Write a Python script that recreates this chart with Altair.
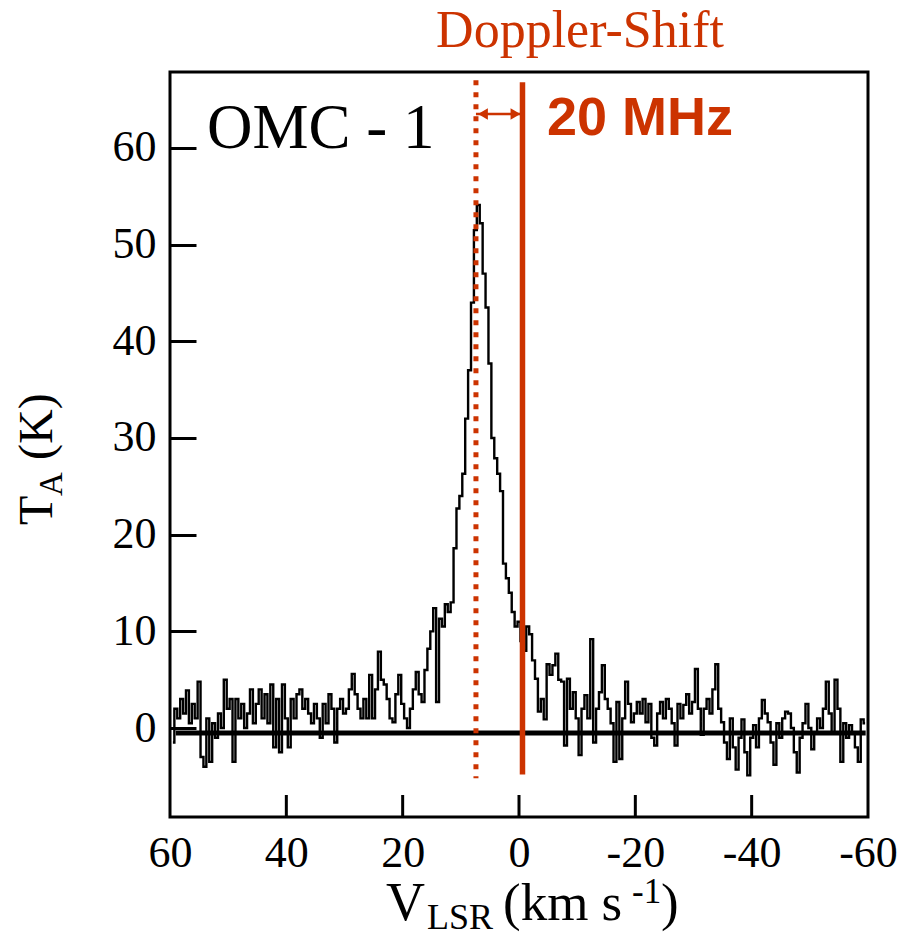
import altair as alt
import numpy as np
import pandas as pd

RED = "#CC3300"

# velocity channels (km/s), 0.5 km/s apart, from 59.5 down to -59.5
velocity = np.arange(59.5, -60.0, -0.5)

# antenna temperature T_A (K)
t_a = [
    -1.5, 2.0, 1.0, 3.0, 1.5, 3.9, 0.5, 2.5, 1.0, 4.8,
    -3.0, -4.0, 1.0, -3.5, 0.5, -1.0, 1.5, 0.0, 5.0, 2.0,
    3.0, -3.5, 3.0, 1.0, 2.5, 0.0, 1.5, 4.0, 0.5, 2.5,
    4.0, 1.0, 3.5, 0.5, 4.5, -2.0, 3.0, -2.5, 4.5, 1.0,
    -2.0, 3.0, 1.0, 3.5, 4.0, 2.0, 3.0, 1.5, 0.5, 2.5,
    1.0, -1.0, 2.5, 0.5, 3.5, 2.0, -1.5, 2.0, 3.0, 1.5,
    2.0, 4.0, 5.6, 3.5, 2.0, 1.0, 3.0, 1.0, 5.5, 1.0,
    4.0, 7.9, 5.0, 4.5, 3.0, 1.0, 0.6, 3.5, 5.5, 2.5,
    1.0, 0.0, 2.0, 4.0, 5.8, 3.5, 2.7, 6.0, 8.2, 10.0,
    12.4, 2.7, 11.3, 10.5, 12.8, 12.0, 13.0, 18.6, 22.7, 24.0,
    26.3, 32.0, 37.0, 44.0, 51.5, 54.1, 52.2, 47.0, 43.5, 37.7,
    30.0, 27.9, 26.3, 24.5, 17.0, 15.5, 14.0, 12.0, 10.5, 11.0,
    9.0, 8.0, 10.5, 9.7, 7.0, 5.1, 1.7, 3.0, 0.9, 6.6,
    5.5, 6.5, 7.7, 5.0, 4.8, -1.8, 5.1, 2.0, 3.7, 1.0,
    -2.8, 2.0, 3.4, 1.0, 9.2, -1.5, 2.0, 3.7, 6.5, 3.0,
    2.0, 0.5, -3.5, 2.7, -3.2, 1.0, 4.8, 2.5, 0.6, 1.5,
    2.7, 1.5, 3.0, 0.6, 2.5, -1.0, -1.8, 1.5, 2.7, 1.0,
    3.0, 2.0, 0.5, -1.8, 2.5, 1.0, 2.4, 3.5, 1.5, 2.7,
    6.1, 2.0, -0.7, 2.0, 3.0, 1.5, 4.0, 6.6, 2.0, 0.6,
    -1.5, -3.2, 1.0, -2.0, -4.3, -1.0, 0.9, -2.5, -4.9, -1.0,
    0.3, -2.0, 1.0, 2.9, 1.5, 0.6, -1.5, -3.8, 0.5, -1.0,
    1.0, 1.7, 1.5, 0.0, -2.5, -4.6, -1.0, 0.5, 2.5, 0.0,
    -2.2, -0.5, 1.0, 0.0, 2.0, 4.8, 1.5, -0.5, 5.0, 2.0,
    -3.5, 0.5, -1.0, 0.3, -0.5, -2.0, -3.5, 0.9, 0.5,
]

x_tick_values = [60, 40, 20, 0, -20, -40, -60]
x_inner_ticks = [40, 20, 0, -20, -40]
y_tick_values = [0, 10, 20, 30, 40, 50, 60]

baseline_level = [-0.5]
baseline_span = [59.0, -59.6]
rest_velocity = [-0.6]      # solid red line
shifted_velocity = [7.4]    # dotted red line
line_span = [66.8, -5.0]
arrow_level = [63.5]

W, H = 698, 745

spec = pd.DataFrame({"v": velocity, "t": t_a})

xscale = alt.Scale(domain=[-60, 60], reverse=True, nice=False, zero=False)
yscale = alt.Scale(domain=[-9.2, 67.85], nice=False, zero=False)

label_expr = "datum.value < 0 ? '-' + abs(datum.value) : '' + datum.value"

x_axis = alt.Axis(values=x_tick_values, title=None, ticks=False, domain=False, grid=False,
                  labelFont="Liberation Serif", labelFontSize=44, labelColor="black",
                  labelPadding=14, labelExpr=label_expr, labelOverlap=False, labelBound=False,
                  labelFlush=False)
# y axis drawn 26 px inside the frame so that its ticks point into the plot
y_axis = alt.Axis(values=y_tick_values, title=None, ticks=True, tickSize=26, tickWidth=3,
                  tickColor="black", offset=-26, domain=False, grid=False,
                  labelFont="Liberation Serif", labelFontSize=44, labelColor="black",
                  labelPadding=14, labelOverlap=False, labelBound=False, labelFlush=False,
                  labelBaseline="middle")

spectrum = alt.Chart(spec).mark_line(interpolate="step", color="black", strokeWidth=2.4).encode(
    x=alt.X("v:Q", scale=xscale, axis=x_axis),
    y=alt.Y("t:Q", scale=yscale, axis=y_axis),
)

base_df = pd.DataFrame({"x1": [baseline_span[0]], "x2": [baseline_span[1]], "y": baseline_level})
baseline = alt.Chart(base_df).mark_rule(color="black", strokeWidth=5).encode(
    x=alt.X("x1:Q", scale=xscale), x2="x2:Q", y=alt.Y("y:Q", scale=yscale))

xt_df = pd.DataFrame({"v": x_inner_ticks})
xticks = alt.Chart(xt_df).mark_rule(color="black", strokeWidth=3).encode(
    x=alt.X("v:Q", scale=xscale), y=alt.value(H), y2=alt.value(H - 22))

solid_df = pd.DataFrame({"v": rest_velocity, "y1": [line_span[0]], "y2": [line_span[1] + 0.2]})
solid = alt.Chart(solid_df).mark_rule(color=RED, strokeWidth=5.5).encode(
    x=alt.X("v:Q", scale=xscale), y=alt.Y("y1:Q", scale=yscale), y2="y2:Q")

dot_df = pd.DataFrame({"v": shifted_velocity, "y1": [line_span[0] + 0.2], "y2": [line_span[1] - 0.2]})
dotted = alt.Chart(dot_df).mark_rule(color=RED, strokeWidth=5, strokeDash=[5, 7]).encode(
    x=alt.X("v:Q", scale=xscale), y=alt.Y("y1:Q", scale=yscale), y2="y2:Q")

arr_df = pd.DataFrame({"x1": shifted_velocity, "x2": rest_velocity, "y": arrow_level})
arrow_line = alt.Chart(arr_df).mark_rule(color=RED, strokeWidth=2.5).encode(
    x=alt.X("x1:Q", scale=xscale), x2="x2:Q", y=alt.Y("y:Q", scale=yscale))
head_l = alt.Chart(arr_df).mark_point(shape="triangle-left", filled=True, color=RED, size=130,
                                      opacity=1, xOffset=7).encode(
    x=alt.X("x1:Q", scale=xscale), y=alt.Y("y:Q", scale=yscale))
head_r = alt.Chart(arr_df).mark_point(shape="triangle-right", filled=True, color=RED, size=130,
                                      opacity=1, xOffset=-7).encode(
    x=alt.X("x2:Q", scale=xscale), y=alt.Y("y:Q", scale=yscale))

def txt(s, x, y, size, font="Liberation Serif", color="black", weight="normal",
        align="left", angle=0, baseline="alphabetic"):
    return alt.Chart(pd.DataFrame({"a": [0]})).mark_text(
        text=s, font=font, fontSize=size, color=color, fontWeight=weight,
        align=align, baseline=baseline, angle=angle).encode(x=alt.value(x), y=alt.value(y))

# positions relative to plot area (origin at plot top-left: page x=170, y=72)
omc = txt("OMC - 1", 37, 76, 63)
mhz = txt("20 MHz", 377, 63, 54, font="Liberation Sans", color=RED, weight="bold")
doppler = txt("Doppler-Shift", 410, -25, 52, color=RED, align="center")

xt_v = txt("V", 216, 848, 54)
xt_sub = txt("LSR", 257, 857, 36)
xt_main = txt("(km s", 333, 848, 53)
xt_sup = txt("-1", 462, 831, 35)
xt_close = txt(")", 491, 848, 53)

yt_t = txt("T", -118, 453, 48, angle=270)
yt_sub = txt("A", -108, 424, 33, angle=270)
yt_main = txt("(K)", -118, 388, 48, angle=270)

chart = alt.layer(
    spectrum, baseline, xticks, dotted, solid, arrow_line, head_l, head_r,
    omc, mhz, doppler, xt_v, xt_sub, xt_main, xt_sup, xt_close, yt_t, yt_sub, yt_main,
).properties(
    width=W, height=H,
    autosize=alt.AutoSizeParams(type="none"),
    padding={"left": 162, "top": 64, "right": 30, "bottom": 120},
).configure(
    background="white",
    view=alt.ViewConfig(stroke="black", strokeWidth=3),
)

chart.save("out.html", embed_options={"renderer": "svg", "actions": False})
